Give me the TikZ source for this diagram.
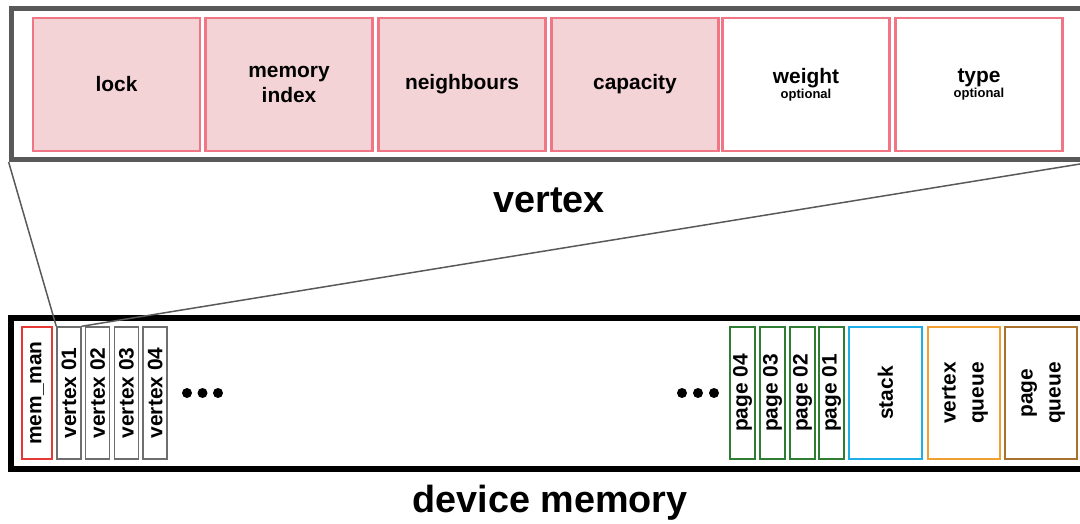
\documentclass[tikz,border=0pt]{standalone}
\usepackage{fontspec}
\setmainfont{Liberation Sans}
\usepackage{xcolor}
\usepackage{tikz}
\usetikzlibrary{positioning}

\definecolor{framegray}{HTML}{595959}
\definecolor{fieldred}{HTML}{F07585}
\definecolor{fieldfill}{HTML}{F4D3D7}
\definecolor{manred}{HTML}{E53935}
\definecolor{slotgray}{HTML}{6E6E6E}
\definecolor{pagegreen}{HTML}{2E7D32}
\definecolor{stackblue}{HTML}{1EAEE8}
\definecolor{vqorange}{HTML}{F0A030}
\definecolor{pqbrown}{HTML}{A8722E}

\tikzset{
    field/.style={draw=fieldred, line width=1.4pt, minimum width=3.34cm, minimum height=2.66cm,
        inner sep=0pt, align=center, font=\bfseries\fontsize{11.9}{14.2}\selectfont},
    slot/.style={draw, line width=0.85pt, minimum height=2.64cm, inner sep=0pt,
        font=\bfseries\fontsize{11.9}{15.9}\selectfont},
    title/.style={font=\bfseries\fontsize{21.5}{24}\selectfont}
}

\begin{document}
\begin{tikzpicture}[x=0.02cm, y=-0.02cm]
    \clip (0,0) rectangle (1080,524);

    % Nodes
    \node[draw=framegray, line width=2.85pt, minimum width=21.58cm, minimum height=3.02cm] (VF) at (550.5, 84) {};
    \node[field, fill=fieldfill] (L) at (116.5, 84.5) {lock};
    \node[field, fill=fieldfill] (M) at (289, 84.5) {memory\\index};
    \node[field, fill=fieldfill] (N) at (462, 84.5) {neighbours};
    \node[field, fill=fieldfill] (C) at (635, 84.5) {capacity};
    \node[field, fill=white] (W) at (806, 84.5) {weight\\[-5.8pt]{\fontsize{7.4}{8}\selectfont optional}};
    \node[field, fill=white] (T) at (979, 84.5) {type\\[-5.8pt]{\fontsize{7.4}{8}\selectfont optional}};
    \node[title] (VL) at (549, 200) {vertex};

    \node[draw=black, line width=3.4pt, minimum width=21.58cm, minimum height=3.02cm] (D) at (550.5, 393.5) {};
    \node[slot, draw=manred, minimum width=0.6cm] (MM) at (37, 393) {\rotatebox{90}{mem\_man}};
    \node[slot, draw=slotgray, minimum width=0.48cm] (V1) at (69, 393) {\rotatebox{90}{vertex 01}};
    \node[slot, draw=slotgray, minimum width=0.48cm] (V2) at (97.7, 393) {\rotatebox{90}{vertex 02}};
    \node[slot, draw=slotgray, minimum width=0.48cm] (V3) at (126.4, 393) {\rotatebox{90}{vertex 03}};
    \node[slot, draw=slotgray, minimum width=0.48cm] (V4) at (155.1, 393) {\rotatebox{90}{vertex 04}};
    \node[slot, draw=pagegreen, minimum width=0.5cm] (P4) at (742.5, 393) {\rotatebox{90}{page 04}};
    \node[slot, draw=pagegreen, minimum width=0.5cm] (P3) at (772.5, 393) {\rotatebox{90}{page 03}};
    \node[slot, draw=pagegreen, minimum width=0.5cm] (P2) at (802.5, 393) {\rotatebox{90}{page 02}};
    \node[slot, draw=pagegreen, minimum width=0.5cm] (P1) at (831.5, 393) {\rotatebox{90}{page 01}};
    \node[slot, draw=stackblue, minimum width=1.46cm] (S) at (885.5, 393) {\rotatebox{90}{stack}};
    \node[slot, draw=vqorange, minimum width=1.44cm] (VQ) at (964, 393) {\rotatebox{90}{\begin{tabular}{@{}c@{}}vertex\\queue\end{tabular}}};
    \node[slot, draw=pqbrown, minimum width=1.44cm] (PQ) at (1041, 393) {\rotatebox{90}{\begin{tabular}{@{}c@{}}page\\queue\end{tabular}}};
    \node[title] (DL) at (550, 503) {device memory};

    % dots
    \fill (187, 393) circle[radius=0.1cm] (202.5, 393) circle[radius=0.1cm] (218, 393) circle[radius=0.1cm];
    \fill (682, 393) circle[radius=0.1cm] (698, 393) circle[radius=0.1cm] (714, 393) circle[radius=0.1cm];

    % Edges
    \draw[framegray, line width=0.85pt] (VF.south west) -- (V1.north west);
    \draw[framegray, line width=0.85pt] (VF.south east) -- (V1.north east);
\end{tikzpicture}
\end{document}
